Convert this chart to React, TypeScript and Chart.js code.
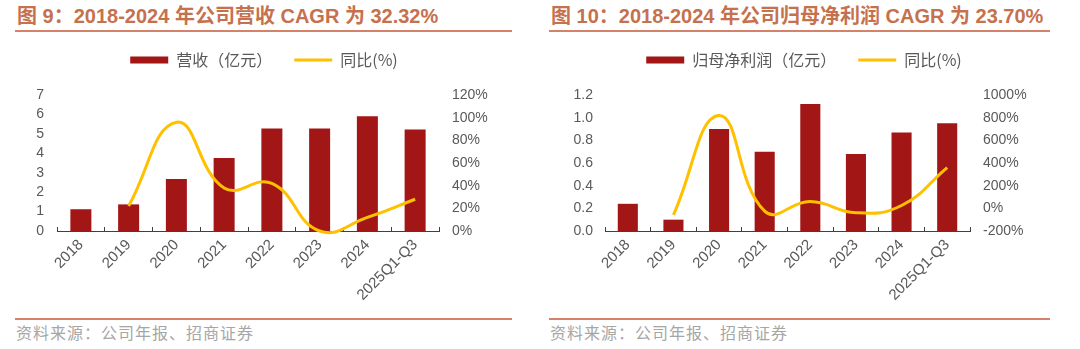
import React, { useEffect, useRef } from 'react';
import { Chart, registerables } from 'chart.js';

Chart.register(...registerables);

// ---------- data ----------
const categories = ['2018', '2019', '2020', '2021', '2022', '2023', '2024', '2025Q1-Q3'];

const revenue = [1.12, 1.37, 2.68, 3.76, 5.27, 5.28, 5.9, 5.23];
const revenueYoY = [null, 22, 96, 38, 42, 0, 12, 28];

const netProfit = [0.24, 0.1, 0.9, 0.7, 1.12, 0.68, 0.87, 0.95];
const netProfitYoY = [null, -58, 820, -25, 60, -39, 25, 360];

const revLeftTicks = [0, 1, 2, 3, 4, 5, 6, 7];
const revRightTicks = [0, 20, 40, 60, 80, 100, 120];
const npLeftTicks = [0, 0.2, 0.4, 0.6, 0.8, 1.0, 1.2];
const npRightTicks = [-200, 0, 200, 400, 600, 800, 1000];

const title1 = '图 9：2018-2024 年公司营收 CAGR 为 32.32%';
const title2 = '图 10：2018-2024 年公司归母净利润 CAGR 为 23.70%';
const barLabel1 = '营收（亿元）';
const barLabel2 = '归母净利润（亿元）';
const lineLabel = '同比(%)';
const source = '资料来源：公司年报、招商证券';

// ---------- styles ----------
const BAR = '#A31616';
const LINE = '#FFC000';
const TEXT = '#595959';
const AXIS = '#404040';
const TITLE = '#C6714D';
const RULE = '#D4826A';
const FONT = "'Liberation Sans', 'Noto Sans CJK SC', sans-serif";
const CJK = "'Noto Sans CJK SC', 'Liberation Sans', sans-serif";

const CANVAS_TOP = 30;
const CANVAS_H = 286;
const PLOT_TOP = 95;
const PLOT_BOTTOM = 231;
const LEGEND_PAD = 22;

type PanelProps = {
  left: number;
  width: number;
  leftAxisW: number;
  rightAxisW: number;
  leftPad: number;
  rightPad: number;
  barLabel: string;
  bars: number[];
  line: (number | null)[];
  leftTicks: number[];
  rightTicks: number[];
  leftFmt: (v: number) => string;
  rightFmt: (v: number) => string;
};

function ChartPanel(p: PanelProps) {
  const ref = useRef<HTMLCanvasElement>(null);
  useEffect(() => {
    if (!ref.current) return;
    const legendSpacer = {
      id: 'legendSpacer',
      beforeInit(chart: any) {
        const lg = chart.legend;
        if (!lg) return;
        const orig = lg.fit;
        lg.fit = function () {
          orig.call(this);
          this.height = PLOT_TOP - CANVAS_TOP;
        };
      },
    };
    const tickFont = { family: FONT, size: 14 };
    const chart = new Chart(ref.current, {
      type: 'bar',
      data: {
        labels: categories,
        datasets: [
          {
            type: 'bar',
            label: p.barLabel,
            data: p.bars,
            backgroundColor: BAR,
            borderWidth: 0,
            barPercentage: 0.44,
            categoryPercentage: 1,
            yAxisID: 'y',
            order: 1,
          } as any,
          {
            type: 'line',
            label: lineLabel,
            data: p.line,
            borderColor: LINE,
            backgroundColor: LINE,
            borderWidth: 3,
            pointRadius: 0,
            tension: 0.45,
            clip: false,
            yAxisID: 'y1',
            order: 0,
          } as any,
        ],
      },
      options: {
        responsive: false,
        animation: false,
        layout: { padding: 0 },
        elements: { line: { capBezierPoints: false } as any },
        plugins: {
          tooltip: { enabled: false },
          legend: {
            position: 'top',
            labels: {
              usePointStyle: true,
              pointStyleWidth: 38,
              boxHeight: 7,
              padding: LEGEND_PAD,
              color: TEXT,
              font: { family: CJK, size: 16 },
              generateLabels: (chart: any) => {
                const items = Chart.defaults.plugins.legend.labels.generateLabels(chart);
                items.sort((a: any, b: any) => a.datasetIndex - b.datasetIndex);
                items.forEach((it: any) => {
                  if (it.datasetIndex === 0) {
                    it.pointStyle = 'rect';
                    it.fillStyle = BAR;
                    it.strokeStyle = BAR;
                    it.lineWidth = 0;
                  } else {
                    it.pointStyle = 'line';
                    it.fillStyle = LINE;
                    it.strokeStyle = LINE;
                    it.lineWidth = 3;
                  }
                });
                return items;
              },
            } as any,
          },
        },
        scales: {
          x: {
            offset: true,
            grid: {
              display: true,
              offset: true,
              drawOnChartArea: false,
              drawTicks: true,
              tickLength: -4,
              color: AXIS,
            },
            border: { display: true, color: AXIS, width: 1 },
            ticks: {
              color: TEXT,
              font: { family: FONT, size: 15 },
              minRotation: 45,
              maxRotation: 45,
              autoSkip: false,
              padding: 9,
            },
            afterFit: (s: any) => {
              s.height = CANVAS_TOP + CANVAS_H - PLOT_BOTTOM;
            },
          },
          y: {
            position: 'left',
            min: p.leftTicks[0],
            max: p.leftTicks[p.leftTicks.length - 1],
            grid: { display: false, drawTicks: false },
            border: { display: false },
            ticks: {
              color: TEXT,
              font: tickFont,
              padding: p.leftPad,
              autoSkip: false,
              callback: (v: any) => p.leftFmt(Number(v)),
            },
            afterBuildTicks: (s: any) => {
              s.ticks = p.leftTicks.map((v) => ({ value: v }));
            },
            afterFit: (s: any) => {
              s.width = p.leftAxisW;
            },
          },
          y1: {
            position: 'right',
            min: p.rightTicks[0],
            max: p.rightTicks[p.rightTicks.length - 1],
            grid: { display: false, drawTicks: false },
            border: { display: false },
            ticks: {
              color: TEXT,
              font: tickFont,
              padding: p.rightPad,
              autoSkip: false,
              callback: (v: any) => p.rightFmt(Number(v)),
            },
            afterBuildTicks: (s: any) => {
              s.ticks = p.rightTicks.map((v) => ({ value: v }));
            },
            afterFit: (s: any) => {
              s.width = p.rightAxisW;
            },
          },
        },
      } as any,
      plugins: [legendSpacer],
    });
    return () => chart.destroy();
  }, []);
  return (
    <canvas
      ref={ref}
      width={p.width}
      height={CANVAS_H}
      style={{ position: 'absolute', left: p.left, top: CANVAS_TOP, width: p.width, height: CANVAS_H }}
    />
  );
}

function Frame({ left, width, title }: { left: number; width: number; title: string }) {
  return (
    <>
      <div
        style={{
          position: 'absolute',
          left: left + 2,
          top: 5,
          fontFamily: FONT,
          fontWeight: 'bold',
          fontSize: 20,
          lineHeight: '23px',
          color: TITLE,
          whiteSpace: 'nowrap',
        }}
      >
        {title}
      </div>
      <div style={{ position: 'absolute', left, top: 30, width, height: 2, background: RULE }} />
      <div style={{ position: 'absolute', left, top: 318, width, height: 2, background: RULE }} />
      <div
        style={{
          position: 'absolute',
          left: left + 1,
          top: 322,
          fontFamily: CJK,
          fontSize: 16,
          lineHeight: '20px',
          letterSpacing: 1,
          color: '#A6A6A6',
          whiteSpace: 'nowrap',
        }}
      >
        {source}
      </div>
    </>
  );
}

export default function App() {
  return (
    <div
      style={{
        position: 'fixed',
        left: 0,
        top: 0,
        width: 1080,
        height: 349,
        background: '#FFFFFF',
        overflow: 'hidden',
      }}
    >
      <Frame left={15} width={497} title={title1} />
      <Frame left={549} width={501} title={title2} />
      <ChartPanel
        left={0}
        width={528}
        leftAxisW={57}
        rightAxisW={89}
        leftPad={13}
        rightPad={13}
        barLabel={barLabel1}
        bars={revenue}
        line={revenueYoY}
        leftTicks={revLeftTicks}
        rightTicks={revRightTicks}
        leftFmt={(v) => String(v)}
        rightFmt={(v) => v + '%'}
      />
      <ChartPanel
        left={540}
        width={528}
        leftAxisW={65}
        rightAxisW={98}
        leftPad={12}
        rightPad={13}
        barLabel={barLabel2}
        bars={netProfit}
        line={netProfitYoY}
        leftTicks={npLeftTicks}
        rightTicks={npRightTicks}
        leftFmt={(v) => v.toFixed(1)}
        rightFmt={(v) => v + '%'}
      />
    </div>
  );
}
